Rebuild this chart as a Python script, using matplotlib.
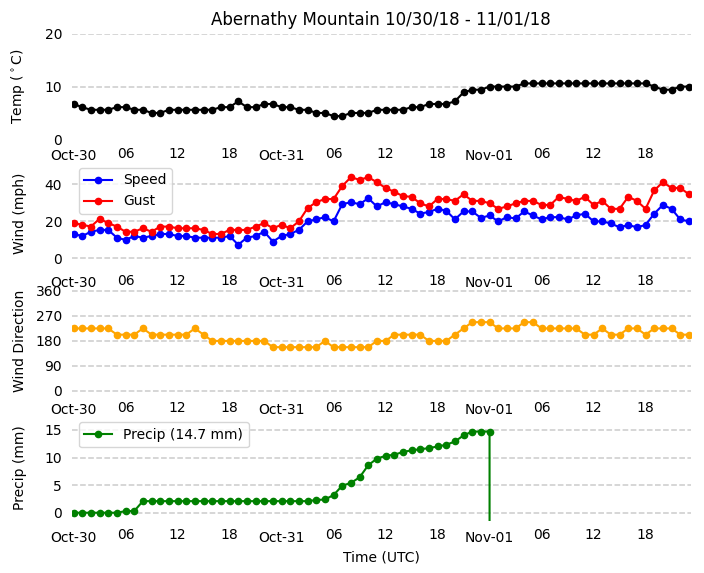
import numpy as np
import pandas as pd
import matplotlib
matplotlib.use('Agg')
import matplotlib.pyplot as plt
import matplotlib.dates as mdates

## DATA (hourly obs)

times = pd.date_range('2018-10-30 00:00', periods=72, freq='h')

temp = [6.7, 6.1, 5.6, 5.6, 5.6, 6.1, 6.1, 5.6, 5.6, 5.0,
        5.0, 5.6, 5.6, 5.6, 5.6, 5.6, 5.6, 6.1, 6.1, 7.2,
        6.1, 6.1, 6.7, 6.7, 6.1, 6.1, 5.6, 5.6, 5.0, 5.0,
        4.4, 4.4, 5.0, 5.0, 5.0, 5.6, 5.6, 5.6, 5.6, 6.1,
        6.1, 6.7, 6.7, 6.7, 7.2, 8.9, 9.4, 9.4, 10.0, 10.0,
        10.0, 10.0, 10.6, 10.6, 10.6, 10.6, 10.6, 10.6, 10.6, 10.6,
        10.6, 10.6, 10.6, 10.6, 10.6, 10.6, 10.6, 10.0, 9.4, 9.4,
        10.0, 10.0]

speed = [13.2, 12.1, 14.4, 15.4, 15.4, 11.2, 10.0, 12.1, 11.2, 12.1,
         13.2, 13.2, 12.1, 12.1, 11.2, 11.2, 11.2, 11.2, 12.1, 7.4,
         11.2, 12.1, 14.4, 9.1, 12.1, 13.2, 15.4, 20.0, 21.1, 22.3,
         20.0, 29.3, 30.4, 29.3, 32.5, 28.1, 30.4, 29.3, 28.1, 26.8,
         24.2, 25.1, 26.8, 25.8, 21.1, 25.4, 25.4, 21.9, 23.2, 20.0,
         22.3, 21.6, 25.4, 23.2, 21.1, 22.3, 22.3, 21.1, 23.2, 24.2,
         20.0, 20.0, 18.9, 16.8, 18.1, 16.8, 18.1, 24.2, 28.9, 26.8,
         21.1, 20.0]

gust = [19.1, 18.2, 17.2, 21.4, 19.1, 17.2, 14.4, 14.4, 16.3, 14.4,
        17.2, 17.2, 16.3, 16.3, 16.3, 15.4, 13.2, 13.2, 15.4, 15.4,
        15.4, 17.2, 19.1, 16.3, 18.2, 16.3, 20.0, 27.2, 30.4, 32.1,
        32.1, 39.1, 43.9, 42.5, 43.9, 41.2, 38.1, 36.0, 33.7, 33.3,
        29.8, 28.1, 32.1, 32.1, 31.1, 34.7, 31.1, 31.1, 29.8, 26.8,
        28.1, 29.8, 31.1, 31.1, 28.9, 28.9, 33.3, 32.1, 31.1, 33.3,
        28.9, 31.1, 26.8, 26.8, 33.3, 31.1, 26.8, 36.8, 41.2, 38.1,
        38.1, 34.7]

wdir = [225, 225, 225, 225, 225, 202.5, 202.5, 202.5, 225, 202.5,
        202.5, 202.5, 202.5, 202.5, 225, 202.5, 180, 180, 180, 180,
        180, 180, 180, 157.5, 157.5, 157.5, 157.5, 157.5, 157.5, 180,
        157.5, 157.5, 157.5, 157.5, 157.5, 180, 180, 202.5, 202.5, 202.5,
        202.5, 180, 180, 180, 202.5, 225, 247.5, 247.5, 247.5, 225,
        225, 225, 247.5, 247.5, 225, 225, 225, 225, 225, 202.5,
        202.5, 225, 202.5, 202.5, 225, 225, 202.5, 225, 225, 225,
        202.5, 202.5]

# accumulated precip, last value is the station's missing flag
precip = [0.0, 0.0, 0.0, 0.0, 0.0, 0.0, 0.3, 0.3, 2.1, 2.1,
          2.1, 2.1, 2.1, 2.1, 2.1, 2.1, 2.1, 2.1, 2.1, 2.1,
          2.1, 2.1, 2.1, 2.1, 2.1, 2.1, 2.1, 2.1, 2.3, 2.4,
          3.2, 4.9, 5.4, 6.4, 8.6, 9.8, 10.3, 10.5, 11.0, 11.3,
          11.5, 11.7, 12.0, 12.3, 12.9, 14.0, 14.7, 14.7, 14.7, -9999.0]

precip = np.array(precip)
ptotal = precip[precip >= 0].max()

## PLOT

fig, axs = plt.subplots(4, 1, figsize=(7.04, 5.73), dpi=100)
fig.subplots_adjust(left=0.102, right=0.981, top=0.941, bottom=0.091, hspace=0.205)

ms = 4.5
axs[0].plot(times, temp, 'o-', c='k', ms=ms)
axs[0].set_ylim(0, 20)
axs[0].set_yticks([0, 10, 20])
axs[0].set_ylabel(r'Temp ($^\circ$C)')
axs[0].set_title('Abernathy Mountain 10/30/18 - 11/01/18', fontsize=12)

axs[1].plot(times, speed, 'o-', c='b', ms=ms, label='Speed')
axs[1].plot(times, gust, 'o-', c='r', ms=ms, label='Gust')
axs[1].set_ylim(-0.1 * max(gust), 1.2 * max(gust))
axs[1].set_yticks([0, 20, 40])
axs[1].set_ylabel('Wind (mph)')
axs[1].legend(loc='upper left')

axs[2].plot(times, wdir, 'o-', c='orange', ms=ms)
axs[2].set_ylim(-10, 370)
axs[2].set_yticks([0, 90, 180, 270, 360])
axs[2].set_ylabel('Wind Direction')

axs[3].plot(times[:len(precip)], precip, 'o-', c='g', ms=ms,
            label='Precip (%.1f mm)' % ptotal)
axs[3].set_ylim(-0.1 * ptotal, 1.2 * ptotal)
axs[3].set_yticks([0, 5, 10, 15])
axs[3].set_ylabel('Precip (mm)')
axs[3].legend(loc='upper left')
axs[3].set_xlabel('Time (UTC)')

pad = pd.Timedelta(minutes=12)
for ax in axs:
    ax.set_xlim(times[0] - pad, times[-1] + pad)
    ax.xaxis.set_major_locator(mdates.DayLocator())
    ax.xaxis.set_major_formatter(mdates.DateFormatter('%b-%d'))
    ax.xaxis.set_minor_locator(mdates.HourLocator(byhour=[6, 12, 18]))
    ax.xaxis.set_minor_formatter(mdates.DateFormatter('%H'))
    ax.tick_params(which='both', color='none')
    for s in ax.spines.values():
        s.set_visible(False)
    ax.grid(axis='y', ls='--', c='#cccccc', lw=1.1)
    ax.set_axisbelow(True)
    ax.yaxis.set_label_coords(-0.072, 0.5)

# bottom gridline of the temp panel sits on the axes edge, not shown
axs[0].yaxis.get_gridlines()[0].set_visible(False)

plt.savefig('out.png', dpi=100)
